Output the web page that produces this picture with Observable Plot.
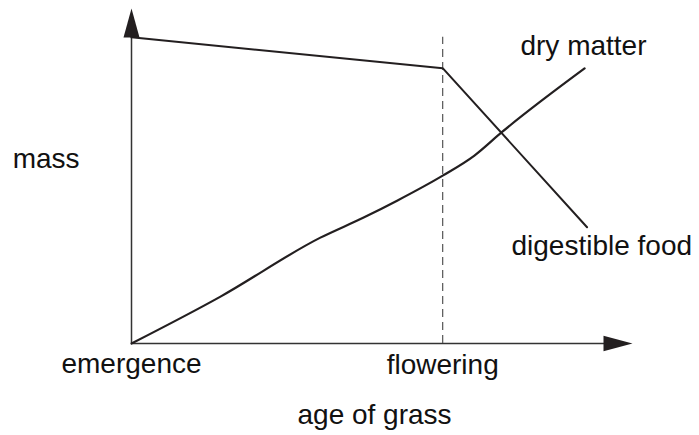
<!DOCTYPE html>
<html>
<head>
<meta charset="utf-8">
<script src="https://cdn.jsdelivr.net/npm/d3@7"></script>
<script src="https://cdn.jsdelivr.net/npm/@observablehq/plot@0.6"></script>
<style>
  html, body { margin: 0; padding: 0; background: #fff; }
  #chart svg { display: block; }
</style>
</head>
<body>
<div id="chart"></div>
<script>
// Age of grass (flowering = 10) and relative mass (0–100)
const digestibleAge  = [0, 10, 14.64];
const digestibleMass = [91.4, 82.2, 34.7];

const dryAge  = [0, 2.86, 6.07, 7.46, 8.55, 10, 11.02, 11.89, 14.56];
const dryMass = [0, 14.0, 31.6, 37.6, 42.7, 50.1, 56.1, 63.0, 82.1];

const floweringAge = 10;
const axisEndAge = 16.1;
const axisTopMass = 100;
const arrowBaseMass = 91.4;

const labelTexts = ["mass", "emergence", "flowering", "age of grass", "dry matter", "digestible food"];
const labelAges  = [-3.82, 0, 10, 7.81, 12.5, 12.21];
const labelMass  = [52.5, -8.7, -9.0, -23.9, 86.0, 26.3];
const labelAnchors = ["start", "middle", "middle", "middle", "start", "start"];

const ink = "#231f20";

const digestible = digestibleAge.map((a, i) => ({age: a, mass: digestibleMass[i]}));
const dry = dryAge.map((a, i) => ({age: a, mass: dryMass[i]}));
const labels = labelTexts.map((t, i) => ({text: t, age: labelAges[i], mass: labelMass[i], anchor: labelAnchors[i]}));

// custom arrowhead symbols (tip at the anchor point)
const arrowUp = {draw(ctx) { ctx.moveTo(0, 0); ctx.lineTo(-8, 29); ctx.lineTo(8, 29); ctx.closePath(); }};
const arrowRight = {draw(ctx) { ctx.moveTo(0, 0); ctx.lineTo(-29, -7.7); ctx.lineTo(-29, 7.7); ctx.closePath(); }};

const textStyle = {x: "age", y: "mass", text: "text", lineAnchor: "bottom", fontSize: 28, fill: "#111"};

const chart = Plot.plot({
  width: 699,
  height: 435,
  marginLeft: 131,
  marginRight: 67,
  marginTop: 8,
  marginBottom: 92,
  x: {domain: [0, axisEndAge], axis: null},
  y: {domain: [0, axisTopMass], axis: null},
  style: {fontFamily: "'Liberation Sans', Arial, Helvetica, sans-serif", background: "#fff"},
  marks: [
    // axes
    Plot.ruleY([0], {x1: 0, x2: axisEndAge - 0.5, stroke: "#333", strokeWidth: 1.5}),
    Plot.ruleX([0], {y1: 0, y2: arrowBaseMass + 0.5, stroke: "#333", strokeWidth: 1.5}),
    Plot.dot([{age: 0, mass: axisTopMass}], {x: "age", y: "mass", symbol: arrowUp, r: 5, fill: ink, stroke: "none"}),
    Plot.dot([{age: axisEndAge, mass: 0}], {x: "age", y: "mass", symbol: arrowRight, r: 5, fill: ink, stroke: "none"}),
    // flowering marker
    Plot.ruleX([floweringAge], {y1: 0, y2: arrowBaseMass, stroke: "#555", strokeWidth: 1.2, strokeDasharray: "8,5"}),
    // curves
    Plot.line(digestible, {x: "age", y: "mass", stroke: ink, strokeWidth: 2}),
    Plot.line(dry, {x: "age", y: "mass", stroke: ink, strokeWidth: 2.2, curve: "monotone-x"}),
    // labels
    Plot.text(labels.filter(d => d.anchor === "start"), {...textStyle, textAnchor: "start"}),
    Plot.text(labels.filter(d => d.anchor === "middle"), {...textStyle, textAnchor: "middle"})
  ]
});

document.getElementById("chart").appendChild(chart);
</script>
</body>
</html>
